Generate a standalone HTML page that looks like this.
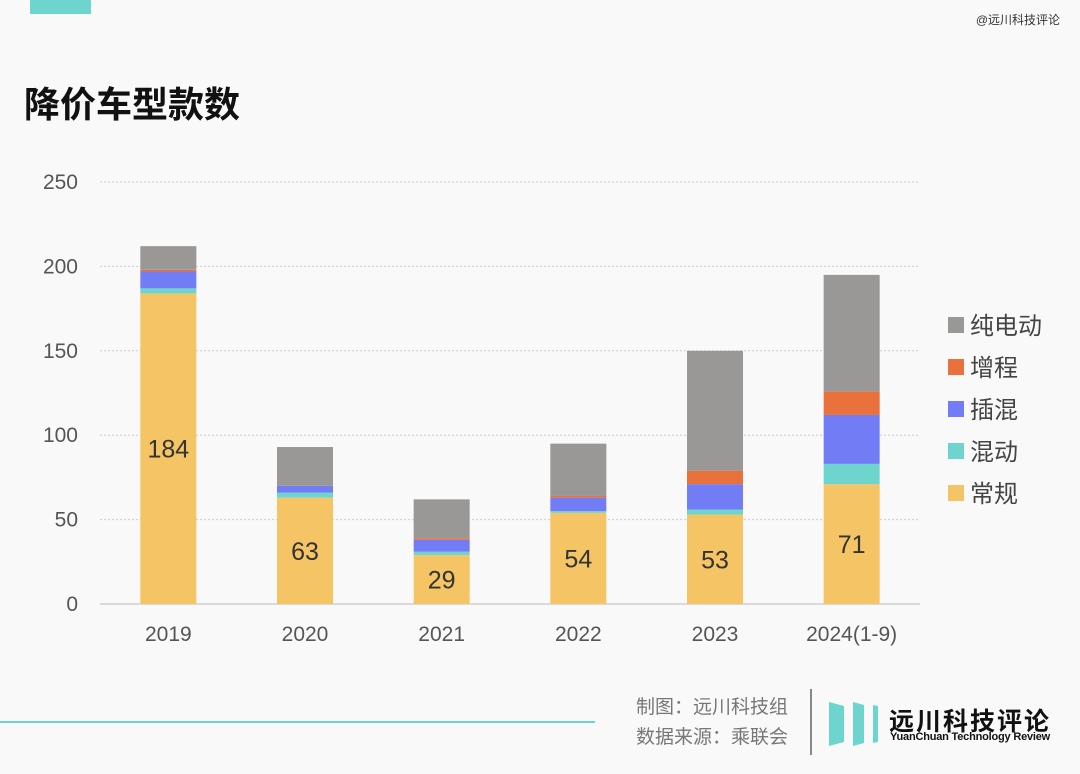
<!DOCTYPE html>
<html><head><meta charset="utf-8">
<style>
body{margin:0;background:#f9f9f9;width:1080px;height:774px;overflow:hidden;position:relative;font-family:"Liberation Sans","Noto Sans CJK SC",sans-serif;}
.abs{position:absolute;}
</style></head>
<body>
<div class="abs" style="left:30px;top:0;width:61px;height:14px;background:#6dd5cd"></div>
<div class="abs" style="right:20px;top:11px;font-size:12px;color:#333">@远川科技评论</div>
<div class="abs" style="left:24px;top:76px;font-size:36px;font-weight:bold;color:#111">降价车型款数</div>
<svg class="abs" style="left:0;top:0" width="1080" height="774">
<g id="grid"></g><g id="bars"></g><g id="labels"></g><g id="legend"></g>
</svg>
<div class="abs" style="left:0;top:721px;width:595px;height:2px;background:#6dd5cd"></div>
<div class="abs" style="left:636px;top:693px;font-size:19px;line-height:30px;color:#777">制图：远川科技组<br>数据来源：乘联会</div>
<div class="abs" style="left:810px;top:689px;width:2px;height:66px;background:#888"></div>
<svg class="abs" style="left:826px;top:700px" width="56" height="48">
<polygon points="3,2 18,6 18,42 3,46" fill="#6dd5cd"/><polygon points="27,2 38,5 38,43 27,46" fill="#6dd5cd"/><polygon points="47,5 52,6 52,42 47,43" fill="#6dd5cd"/></svg>
<div class="abs" style="left:889px;top:702px;font-size:25px;font-weight:bold;color:#111;letter-spacing:2px">远川科技评论</div>
<div class="abs" style="left:890px;top:731px;font-size:11px;font-weight:bold;color:#111;letter-spacing:-0.2px">YuanChuan Technology Review</div>
<script>
const categories=["2019","2020","2021","2022","2023","2024(1-9)"];
const regular=[184,63,29,54,53,71];
const hybrid=[3,3,2,1,3,12];
const phev=[10,4,7,8,15,29];
const erev=[1,0,1,1,8,14];
const bev=[14,23,23,31,71,69];
const yTicks=[0,50,100,150,200,250];
const seriesNames=["常规","混动","插混","增程","纯电动"];
const NS="http://www.w3.org/2000/svg";
const x0=100,x1=920,y0=604,yTop=182,yMax=250;
const y=v=>y0-(v/yMax)*(y0-yTop);
const step=(x1-x0)/categories.length;
const xc=i=>x0+step*(i+0.5);
const colors=["#f4c465","#6dd5cd","#727cf5","#e8713c","#999896"];
const series=[regular,hybrid,phev,erev,bev];
function mk(tag,a,p){const e=document.createElementNS(NS,tag);for(const k in a)e.setAttribute(k,a[k]);p.appendChild(e);return e;}
const G=document.getElementById('grid'),B=document.getElementById('bars'),L=document.getElementById('labels'),LG=document.getElementById('legend');
yTicks.forEach(t=>{
 if(t>0){const l=mk('line',{x1:x0,x2:x1,y1:y(t),y2:y(t),stroke:'#ccc','stroke-dasharray':'2,2'},G);
 
 }
 const tx=mk('text',{x:78,y:y(t)+7,'text-anchor':'end','font-size':21,fill:'#555'},G);tx.textContent=t;
 
 
});
const base=mk('line',{x1:x0,x2:x1,y1:y0,y2:y0,stroke:'#bbb'},G);


categories.forEach((c,i)=>{
 let acc=0;
 series.forEach((s,k)=>{
  const r=mk('rect',{x:xc(i)-28,width:56,y:y(acc+s[i]),height:y(acc)-y(acc+s[i]),fill:colors[k]},B);
  
  
  acc+=s[i];
 });
 const v=mk('text',{x:xc(i),y:y(regular[i]/2)+9,'text-anchor':'middle','font-size':25,fill:'#333'},L);v.textContent=regular[i];
 
 
 const t=mk('text',{x:xc(i),y:641,'text-anchor':'middle','font-size':21,fill:'#555'},L);t.textContent=c;
 
 
});
for(let k=4;k>=0;k--){
 const row=4-k,yy=325+row*42;
 const g=mk('g',{},LG);
 
 
 mk('rect',{x:948,y:yy-8,width:16,height:16,fill:colors[k]},g);
 const t=mk('text',{x:970,y:yy+9,'font-size':24,fill:'#444'},g);t.textContent=seriesNames[k];
}
</script>
</body></html>
